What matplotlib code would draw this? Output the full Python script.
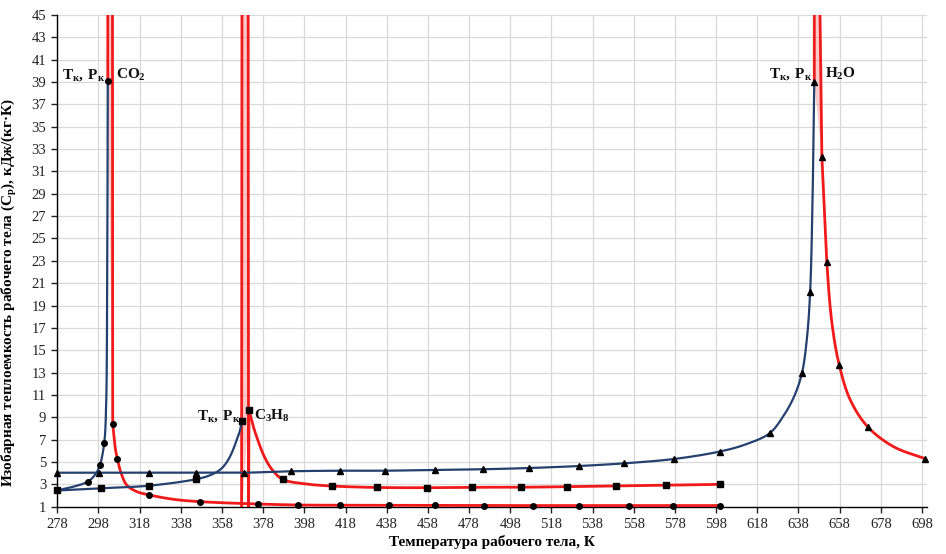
import matplotlib
matplotlib.use('Agg')
import matplotlib.pyplot as plt
import numpy as np

plt.rcParams['font.family'] = ['Liberation Serif', 'DejaVu Serif']
plt.rcParams['mathtext.fontset'] = 'custom'
plt.rcParams['mathtext.rm'] = 'Liberation Serif'
plt.rcParams['mathtext.bf'] = 'Liberation Serif:bold'
plt.rcParams['mathtext.it'] = 'Liberation Serif:italic'

# ---------------- data ----------------
x_ticks = list(range(278, 699, 20))
y_ticks = list(range(1, 46, 2))

# CO2 - liquid side (blue), circles
co2_liq_T = [278, 285, 292.8, 296.5, 298.7, 300.8, 301.7, 302.2, 302.5]
co2_liq_cp = [2.45, 2.75, 3.24, 3.9, 4.73, 6.73, 10.0, 20.0, 39.1]
co2_liq_mT = [278, 292.8, 298.7, 300.8, 302.5]
co2_liq_mcp = [2.45, 3.24, 4.73, 6.73, 39.1]
# CO2 - critical spike (off-scale peak)
co2_spike_T = [302.5, 303.8, 304.9]
co2_spike_cp = [39.1, 400, 8.4]
# CO2 - gas side (red)
co2_gas_T = [304.9, 306.0, 307.2, 309.0, 311.7, 316.6, 322.7, 334.4, 347.3, 375.4,
             395.1, 415.4, 439.2, 461.5, 485.3, 509.3, 531.5, 555.5, 577.3, 599.7]
co2_gas_cp = [8.4, 6.4, 5.24, 4.0, 2.94, 2.35, 2.05, 1.66, 1.45, 1.24,
              1.15, 1.13, 1.12, 1.11, 1.1, 1.1, 1.1, 1.1, 1.1, 1.1]
co2_gas_mT = [304.9, 307.2, 322.7, 347.3, 375.4, 395.1, 415.4, 439.2, 461.5,
              485.3, 509.3, 531.5, 555.5, 577.3, 599.7]
co2_gas_mcp = [8.4, 5.24, 2.05, 1.45, 1.24, 1.15, 1.13, 1.12, 1.11,
               1.1, 1.1, 1.1, 1.1, 1.1, 1.1]

# C3H8 - liquid side (blue), squares
c3h8_liq_T = [278, 299.1, 322.7, 345.2, 352, 357, 360, 362.7, 365.2, 366.7, 367.6]
c3h8_liq_cp = [2.45, 2.65, 2.88, 3.45, 3.8, 4.3, 4.9, 5.8, 7.0, 7.8, 8.7]
c3h8_liq_mT = [278, 299.1, 322.7, 345.2, 367.6]
c3h8_liq_mcp = [2.45, 2.65, 2.88, 3.45, 8.7]
# C3H8 - critical spike
c3h8_spike_T = [367.5, 369.2, 370.9, 371.1]
c3h8_spike_cp = [0, 400, 0, 9.66]
# C3H8 - gas side (red)
c3h8_gas_T = [371.1, 373.0, 375.5, 378.5, 382.2, 387.4, 398, 411.3, 433.2, 457.5,
              479.4, 503.3, 525.5, 549.3, 573.6, 599.7]
c3h8_gas_cp = [9.66, 8.3, 6.9, 5.5, 4.35, 3.45, 3.05, 2.85, 2.72, 2.7,
               2.74, 2.74, 2.79, 2.85, 2.91, 3.0]
c3h8_gas_mT = [371.1, 387.4, 411.3, 433.2, 457.5, 479.4, 503.3, 525.5, 549.3, 573.6, 599.7]
c3h8_gas_mcp = [9.66, 3.45, 2.85, 2.72, 2.7, 2.74, 2.74, 2.79, 2.85, 2.91, 3.0]

# H2O - liquid side (blue), triangles
h2o_liq_T = [278, 298.4, 322.7, 345.2, 368.9, 391.6, 415.4, 437.2, 461.5, 485, 507.3,
             531.5, 553.4, 577.7, 599.7, 612, 624, 631, 636, 639.7, 642.1, 643.7,
             644.8, 645.7]
h2o_liq_cp = [4.04, 4.04, 4.04, 4.04, 4.04, 4.17, 4.22, 4.22, 4.29, 4.35, 4.46,
              4.64, 4.88, 5.27, 5.93, 6.55, 7.57, 9.2, 10.9, 12.94, 16.0, 20.25,
              27.9, 38.96]
h2o_liq_mT = [278, 298.4, 322.7, 345.2, 368.9, 391.6, 415.4, 437.2, 461.5, 485, 507.3,
              531.5, 553.4, 577.7, 599.7, 624, 639.7, 643.7, 645.7]
h2o_liq_mcp = [4.04, 4.04, 4.04, 4.04, 4.04, 4.17, 4.22, 4.22, 4.29, 4.35, 4.46,
               4.64, 4.88, 5.27, 5.93, 7.57, 12.94, 20.25, 38.96]
# H2O - critical spike
h2o_spike_T = [645.7, 646.8, 648.5, 649.4]
h2o_spike_cp = [38.96, 400, 45, 32.3]
# H2O - gas side (red)
h2o_gas_T = [649.4, 650.5, 651.8, 654.3, 657.8, 663.2, 671.6, 684.2, 699.5]
h2o_gas_cp = [32.3, 27.9, 22.85, 17.4, 13.7, 10.55, 8.16, 6.37, 5.3]
h2o_gas_mT = [649.4, 651.8, 657.8, 671.6, 699.5]
h2o_gas_mcp = [32.3, 22.85, 13.7, 8.16, 5.3]

BLUE = '#23406e'
RED = '#f01a1a'

# approximate pixel scale of the axes, used only to make the smoothing isotropic
SX, SY = 2.058, 11.17


def smooth(xs, ys, n=30):
    """Centripetal Catmull-Rom rendering of a line through the given points."""
    p = np.column_stack([np.asarray(xs, float) * SX, np.asarray(ys, float) * SY])
    p = np.vstack([2 * p[0] - p[1], p, 2 * p[-1] - p[-2]])
    out = []
    for i in range(1, len(p) - 2):
        p0, p1, p2, p3 = p[i - 1], p[i], p[i + 1], p[i + 2]
        t0 = 0.0
        t1 = t0 + max(np.linalg.norm(p1 - p0), 1e-6) ** 0.5
        t2 = t1 + max(np.linalg.norm(p2 - p1), 1e-6) ** 0.5
        t3 = t2 + max(np.linalg.norm(p3 - p2), 1e-6) ** 0.5
        t = np.linspace(t1, t2, n, endpoint=False)[:, None]
        a1 = (t1 - t) / (t1 - t0) * p0 + (t - t0) / (t1 - t0) * p1
        a2 = (t2 - t) / (t2 - t1) * p1 + (t - t1) / (t2 - t1) * p2
        a3 = (t3 - t) / (t3 - t2) * p2 + (t - t2) / (t3 - t2) * p3
        b1 = (t2 - t) / (t2 - t0) * a1 + (t - t0) / (t2 - t0) * a2
        b2 = (t3 - t) / (t3 - t1) * a2 + (t - t1) / (t3 - t1) * a3
        c = (t2 - t) / (t2 - t1) * b1 + (t - t1) / (t2 - t1) * b2
        out.append(c)
    out.append(p[-2][None, :])
    out = np.vstack(out)
    return out[:, 0] / SX, out[:, 1] / SY


fig = plt.figure(figsize=(9.46, 5.54), dpi=100)
ax = fig.add_axes([0.0606, 0.0854, 0.9194, 0.8876])

ax.set_xlim(278, 700.5)
ax.set_ylim(1, 45)
ax.set_xticks(x_ticks)
ax.set_yticks(y_ticks)
ax.grid(True, color='#d9d9d9', linewidth=0.9)
ax.set_axisbelow(True)
for s in ['top', 'right']:
    ax.spines[s].set_visible(False)
for s in ['left', 'bottom']:
    ax.spines[s].set_color('black')
    ax.spines[s].set_linewidth(1.0)
ax.tick_params(axis='both', direction='out', length=4, width=1, labelsize=10.5,
               colors='#222222', pad=4)

# critical spikes (red, off-scale)
for sT, sC in [(co2_spike_T, co2_spike_cp), (c3h8_spike_T, c3h8_spike_cp),
               (h2o_spike_T, h2o_spike_cp)]:
    ax.fill(sT, sC, color='#f58a8a', alpha=0.45, linewidth=0, zorder=2)
    ax.plot(sT, sC, color=RED, linewidth=2.0, zorder=3, solid_joinstyle='miter')

# gas (red) branches
for gT, gC in [(co2_gas_T, co2_gas_cp), (c3h8_gas_T, c3h8_gas_cp), (h2o_gas_T, h2o_gas_cp)]:
    sx, sy = smooth(gT, gC)
    ax.plot(sx, sy, color=RED, linewidth=2.0, zorder=3)

# liquid (blue) branches
for lT, lC in [(co2_liq_T, co2_liq_cp), (c3h8_liq_T, c3h8_liq_cp), (h2o_liq_T, h2o_liq_cp)]:
    sx, sy = smooth(lT, lC)
    ax.plot(sx, sy, color=BLUE, linewidth=1.6, zorder=4)

# markers
mk = dict(color='black', linestyle='none', zorder=5, clip_on=False)
ax.plot(co2_liq_mT, co2_liq_mcp, marker='o', markersize=4, **mk)
ax.plot(co2_gas_mT, co2_gas_mcp, marker='o', markersize=4, **mk)
ax.plot(c3h8_liq_mT, c3h8_liq_mcp, marker='s', markersize=4.5, **mk)
ax.plot(c3h8_gas_mT, c3h8_gas_mcp, marker='s', markersize=4.5, **mk)
ax.plot(h2o_liq_mT, h2o_liq_mcp, marker='^', markersize=5, **mk)
ax.plot(h2o_gas_mT, h2o_gas_mcp, marker='^', markersize=5, **mk)

# annotations
tk = r'$\mathbf{T_{к},\;P_{к}}$'
fs = 11
ax.text(301.6, 39.6, tk, ha='right', va='center', fontsize=fs, color='#111111')
ax.text(306.5, 39.6, r'$\mathbf{CO_{2}}$', ha='left', va='center', fontsize=fs, color='#111111')
ax.text(366.8, 9.1, tk, ha='right', va='center', fontsize=fs, color='#111111')
ax.text(373.3, 9.1, r'$\mathbf{C_{3}H_{8}}$', ha='left', va='center', fontsize=fs, color='#111111')
ax.text(644.8, 39.7, tk, ha='right', va='center', fontsize=fs, color='#111111')
ax.text(650.8, 39.7, r'$\mathbf{H_{2}O}$', ha='left', va='center', fontsize=fs, color='#111111')

ax.set_xlabel('Температура рабочего тела, К', fontsize=11, fontweight='bold', labelpad=3)
ax.set_ylabel(r'Изобарная теплоемкость рабочего тела (C$_\mathbf{p}$), кДж/(кг·К)',
              fontsize=11, fontweight='bold', labelpad=6)
ax.yaxis.set_label_coords(-0.044, 0.435)

fig.savefig('out.png', dpi=100, facecolor='white')
